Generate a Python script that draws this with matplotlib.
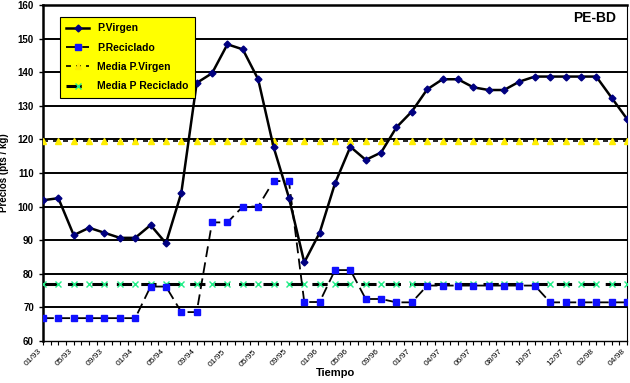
import numpy as np
import matplotlib
matplotlib.use('Agg')
import matplotlib.pyplot as plt

plt.rcParams['font.family'] = ['Liberation Sans', 'DejaVu Sans']

# datos
virgen = [101.9, 102.5, 91.5, 93.7, 92.2, 90.7, 90.7, 94.5, 89.1, 104.1,
          136.8, 139.7, 148.3, 146.8, 137.9, 117.8, 102.7, 83.4, 92.2, 106.9,
          117.8, 113.9, 116.1, 123.6, 128.3, 134.9, 137.9, 137.9, 135.5, 134.7,
          134.7, 137.2, 138.7, 138.7, 138.7, 138.7, 138.7, 132.4, 126.1]
reciclado = [66.8, 66.8, 66.8, 66.8, 66.8, 66.8, 66.8, 76.2, 76.2, 68.6,
             68.6, 95.3, 95.3, 100.0, 100.0, 107.6, 107.6, 71.6, 71.6, 81.1,
             81.1, 72.5, 72.5, 71.5, 71.5, 76.5, 76.5, 76.5, 76.5, 76.5,
             76.5, 76.5, 76.5, 71.5, 71.5, 71.5, 71.5, 71.5, 71.5]
media_virgen = 119.6
media_reciclado = 76.9
etiquetas = ['01/93', '05/93', '09/93', '01/94', '05/94', '09/94', '01/95',
             '05/95', '09/95', '01/96', '05/96', '09/96', '01/97', '04/97',
             '06/97', '08/97', '10/97', '12/97', '02/98', '04/98']

x = np.arange(len(virgen))

fig = plt.figure(figsize=(6.3, 3.83), dpi=100)
ax = fig.add_axes([43/630, 42/383, 584/630, 336/383])

# rejilla horizontal
for v in range(70, 160, 10):
    ax.axhline(v, color='black', lw=1.4, zorder=1)

l1, = ax.plot(x, virgen, color='black', lw=1.8, marker='D', ms=3.5,
              mfc='#000080', mec='#000080', zorder=5, label='P.Virgen')
l2, = ax.plot(x, reciclado, color='black', lw=1.3, ls=(0, (6, 3)), marker='s',
              ms=4.5, mfc='#1010ff', mec='#1010ff', zorder=4, label='P.Reciclado')
l3, = ax.plot(x, [media_virgen]*len(x), color='black', lw=1.2, ls=(0, (3, 3)),
              marker='^', ms=5, mfc='#ffee00', mec='#ffee00', zorder=3,
              label='Media P.Virgen')
l4, = ax.plot(x, [media_reciclado]*len(x), color='black', lw=2.2, ls=(0, (5, 3)),
              marker='x', ms=5, mew=1, mec='#22ee88', zorder=3,
              label='Media P Reciclado')

ax.set_xlim(0, len(x) - 1)
ax.set_ylim(60, 160)
ax.set_yticks(range(60, 161, 10))
ax.set_xticks(x[::2])
ax.set_xticklabels(etiquetas, rotation=45, ha='right', va='top', fontsize=6)
ax.set_xticks(np.arange(0, len(x) - 0.9, 0.5), minor=True)
ax.tick_params(axis='y', labelsize=7, length=3, width=1)
ax.tick_params(axis='x', which='both', length=3, width=0.8, pad=2)
for t in ax.get_yticklabels():
    t.set_fontweight('bold')

for s in ['left', 'top']:
    ax.spines[s].set_linewidth(1.8)
ax.spines['bottom'].set_linewidth(1.0)
ax.spines['right'].set_linewidth(0.8)

ax.set_ylabel('Precios (pts / kg)', fontsize=7, fontweight='bold', labelpad=6)
ax.set_xlabel('Tiempo', fontsize=8, fontweight='bold', labelpad=0)
ax.text(0.945, 0.962, 'PE-BD', transform=ax.transAxes, ha='center', va='center',
        fontsize=10, fontweight='bold')

leg = ax.legend(handles=[l1, l2, l3, l4], loc='upper left',
                bbox_to_anchor=(0.029, 0.964), borderaxespad=0, fancybox=False,
                facecolor='#ffff00', edgecolor='black', framealpha=1,
                prop={'size': 7.5, 'weight': 'bold'}, handlelength=2.2,
                labelspacing=0.9, borderpad=0.6)
leg.get_frame().set_linewidth(0.8)
leg.set_zorder(10)

fig.savefig('out.png', dpi=100)
